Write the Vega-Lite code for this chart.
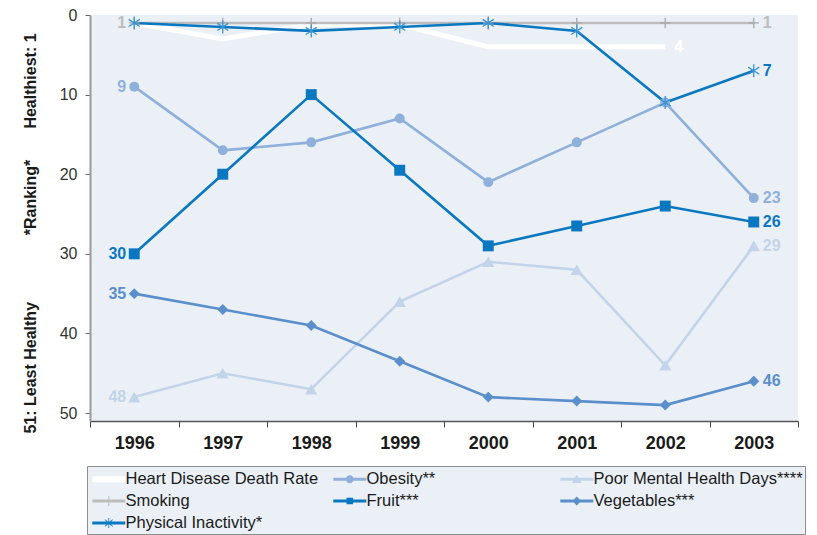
{
  "$schema": "https://vega.github.io/schema/vega-lite/v6.json",
  "width": 708,
  "height": 406,
  "autosize": "none",
  "padding": {"left": 90, "top": 15, "right": 19, "bottom": 114},
  "background": "white",
  "config": {"view": {"fill": "#ebf0f7", "stroke": null}, "font": "Liberation Sans"},
  "data": {"values": [
    {"series": "Heart Disease Death Rate", "year": "1996", "rank": 1},
    {"series": "Heart Disease Death Rate", "year": "1997", "rank": 3},
    {"series": "Heart Disease Death Rate", "year": "1998", "rank": 1.2},
    {"series": "Heart Disease Death Rate", "year": "1999", "rank": 1.2},
    {"series": "Heart Disease Death Rate", "year": "2000", "rank": 4},
    {"series": "Heart Disease Death Rate", "year": "2001", "rank": 4},
    {"series": "Heart Disease Death Rate", "year": "2002", "rank": 4},
    {"series": "Smoking", "year": "1996", "rank": 1},
    {"series": "Smoking", "year": "1997", "rank": 1},
    {"series": "Smoking", "year": "1998", "rank": 1},
    {"series": "Smoking", "year": "1999", "rank": 1},
    {"series": "Smoking", "year": "2000", "rank": 1},
    {"series": "Smoking", "year": "2001", "rank": 1},
    {"series": "Smoking", "year": "2002", "rank": 1},
    {"series": "Smoking", "year": "2003", "rank": 1},
    {"series": "Poor Mental Health Days****", "year": "1996", "rank": 48},
    {"series": "Poor Mental Health Days****", "year": "1997", "rank": 45},
    {"series": "Poor Mental Health Days****", "year": "1998", "rank": 47},
    {"series": "Poor Mental Health Days****", "year": "1999", "rank": 36},
    {"series": "Poor Mental Health Days****", "year": "2000", "rank": 31},
    {"series": "Poor Mental Health Days****", "year": "2001", "rank": 32},
    {"series": "Poor Mental Health Days****", "year": "2002", "rank": 44},
    {"series": "Poor Mental Health Days****", "year": "2003", "rank": 29},
    {"series": "Obesity**", "year": "1996", "rank": 9},
    {"series": "Obesity**", "year": "1997", "rank": 17},
    {"series": "Obesity**", "year": "1998", "rank": 16},
    {"series": "Obesity**", "year": "1999", "rank": 13},
    {"series": "Obesity**", "year": "2000", "rank": 21},
    {"series": "Obesity**", "year": "2001", "rank": 16},
    {"series": "Obesity**", "year": "2002", "rank": 11},
    {"series": "Obesity**", "year": "2003", "rank": 23},
    {"series": "Vegetables***", "year": "1996", "rank": 35},
    {"series": "Vegetables***", "year": "1997", "rank": 37},
    {"series": "Vegetables***", "year": "1998", "rank": 39},
    {"series": "Vegetables***", "year": "1999", "rank": 43.5},
    {"series": "Vegetables***", "year": "2000", "rank": 48},
    {"series": "Vegetables***", "year": "2001", "rank": 48.5},
    {"series": "Vegetables***", "year": "2002", "rank": 49},
    {"series": "Vegetables***", "year": "2003", "rank": 46},
    {"series": "Fruit***", "year": "1996", "rank": 30},
    {"series": "Fruit***", "year": "1997", "rank": 20},
    {"series": "Fruit***", "year": "1998", "rank": 10},
    {"series": "Fruit***", "year": "1999", "rank": 19.5},
    {"series": "Fruit***", "year": "2000", "rank": 29},
    {"series": "Fruit***", "year": "2001", "rank": 26.5},
    {"series": "Fruit***", "year": "2002", "rank": 24},
    {"series": "Fruit***", "year": "2003", "rank": 26},
    {"series": "Physical Inactivity*", "year": "1996", "rank": 1},
    {"series": "Physical Inactivity*", "year": "1997", "rank": 1.5},
    {"series": "Physical Inactivity*", "year": "1998", "rank": 2},
    {"series": "Physical Inactivity*", "year": "1999", "rank": 1.5},
    {"series": "Physical Inactivity*", "year": "2000", "rank": 1},
    {"series": "Physical Inactivity*", "year": "2001", "rank": 2},
    {"series": "Physical Inactivity*", "year": "2002", "rank": 11},
    {"series": "Physical Inactivity*", "year": "2003", "rank": 7}
  ]},
  "encoding": {
    "x": {
      "field": "year", "type": "ordinal", "bandPosition": 0.5,
      "scale": {"type": "band", "paddingInner": 0, "paddingOuter": 0},
      "axis": {
        "title": null, "labelAngle": 0, "labelFontSize": 18, "labelFontWeight": "bold",
        "labelColor": "#1a1a1a", "tickBand": "extent", "tickSize": 6, "tickColor": "#444",
        "domainColor": "#555", "domainWidth": 1.5, "labelPadding": 7, "grid": false
      }
    },
    "y": {
      "field": "rank", "type": "quantitative",
      "scale": {"domain": [0, 51], "reverse": true, "nice": false, "zero": false},
      "axis": {
        "values": [0, 10, 20, 30, 40, 50],
        "title": "51: Least Healthy\u00a0\u00a0\u00a0\u00a0\u00a0\u00a0\u00a0\u00a0\u00a0\u00a0\u00a0\u00a0\u00a0\u00a0\u00a0*Ranking*\u00a0\u00a0\u00a0\u00a0\u00a0\u00a0\u00a0Healthiest: 1",
        "titleFontSize": 16, "titleFontWeight": "bold", "titleColor": "#1a1a1a",
        "titleX": -52, "titleY": 218,
        "labelFontSize": 16, "labelColor": "#333333", "labelPadding": 8,
        "tickSize": 5, "tickColor": "#666666", "domainColor": "#9a9a9a", "domainWidth": 2, "grid": false
      }
    },
    "color": {
      "field": "series", "type": "nominal",
      "scale": {
        "domain": ["Heart Disease Death Rate", "Obesity**", "Poor Mental Health Days****", "Smoking", "Fruit***", "Vegetables***", "Physical Inactivity*"],
        "range": ["#ffffff", "#8fb0da", "#c2d4ea", "#bdbdbd", "#0a77c1", "#5b8fcb", "#0a77c1"]
      },
      "legend": {
        "title": null, "orient": "none", "legendX": -3, "legendY": 451,
        "direction": "horizontal", "columns": 3, "gridAlign": "each",
        "columnPadding": 11, "rowPadding": 2, "padding": 2,
        "fillColor": "#ebf0f7", "strokeColor": "#8c8c8c",
        "symbolSize": 484, "symbolStrokeWidth": 0, "symbolOpacity": 1,
        "labelOffset": 14.5, "labelFontSize": 16.5,
        "labelFont": "Liberation Sans", "labelColor": "#1a1a1a", "labelLimit": 400,
        "labelExpr": "datum.label == 'Obesity**' ? datum.label + '\u00a0\u00a0\u00a0\u00a0\u00a0\u00a0\u00a0\u00a0\u00a0\u00a0\u00a0\u00a0\u00a0\u00a0\u00a0\u00a0\u00a0\u00a0\u00a0\u00a0\u00a0\u00a0\u00a0\u00a0\u200b' : datum.label"
      }
    }
  },
  "layer": [
    {
      "transform": [{"filter": "datum.series == 'Heart Disease Death Rate'"}],
      "mark": {"type": "line", "strokeWidth": 5}
    },
    {
      "transform": [{"filter": "datum.series != 'Heart Disease Death Rate'"}],
      "mark": {"type": "line", "strokeWidth": 2.6}
    },
    {
      "mark": {"type": "point", "opacity": 0, "filled": true},
      "encoding": {
        "shape": {
          "field": "series", "type": "nominal",
          "scale": {
            "domain": ["Heart Disease Death Rate", "Obesity**", "Poor Mental Health Days****", "Smoking", "Fruit***", "Vegetables***", "Physical Inactivity*"],
            "range": [
              "M-0.7,-0.28H2.3V0.28H-0.7Z",
              "M-0.7,-0.13H2.3V0.13H-0.7ZM0.44,0A0.36,0.36 0 1,1 1.16,0A0.36,0.36 0 1,1 0.44,0Z",
              "M-0.7,-0.13H2.3V0.13H-0.7ZM0.8,-0.42L1.25,0.33L0.35,0.33Z",
              "M-0.7,-0.13H2.3V0.13H-0.7ZM0.75,-0.45H0.85V0.45H0.75Z",
              "M-0.7,-0.13H2.3V0.13H-0.7ZM0.5,-0.3H1.1V0.3H0.5Z",
              "M-0.7,-0.13H2.3V0.13H-0.7ZM0.8,-0.4L1.2,0L0.8,0.4L0.4,0Z",
              "M-0.7,-0.13H2.3V0.13H-0.7ZM0.76,-0.45H0.84V0.45H0.76ZM0.43,-0.27L0.47,-0.33L1.17,0.27L1.13,0.33ZM0.43,0.27L1.13,-0.33L1.17,-0.27L0.47,0.33Z"
            ]
          }
        }
      }
    },
    {
      "transform": [{"filter": "datum.series == 'Smoking'"}],
      "mark": {"type": "point", "shape": "M-1,0H1M0,-1V1", "filled": false, "stroke": "#a8a8a8", "strokeWidth": 1.3, "size": 110, "opacity": 1}
    },
    {
      "transform": [{"filter": "datum.series == 'Poor Mental Health Days****'"}],
      "mark": {"type": "point", "shape": "triangle-up", "filled": true, "color": "#c2d4ea", "size": 150, "opacity": 1}
    },
    {
      "transform": [{"filter": "datum.series == 'Obesity**'"}],
      "mark": {"type": "point", "shape": "circle", "filled": true, "color": "#8fb0da", "size": 100, "opacity": 1}
    },
    {
      "transform": [{"filter": "datum.series == 'Vegetables***'"}],
      "mark": {"type": "point", "shape": "diamond", "filled": true, "color": "#5b8fcb", "size": 120, "opacity": 1}
    },
    {
      "transform": [{"filter": "datum.series == 'Fruit***'"}],
      "mark": {"type": "point", "shape": "square", "filled": true, "color": "#0a77c1", "size": 120, "opacity": 1}
    },
    {
      "transform": [{"filter": "datum.series == 'Physical Inactivity*'"}],
      "mark": {"type": "point", "shape": "M0,-1V1M-0.85,-0.55L0.85,0.55M-0.85,0.55L0.85,-0.55", "filled": false, "stroke": "#3a93d6", "strokeWidth": 1.3, "size": 170, "opacity": 1}
    },
    {
      "transform": [{"filter": "datum.year == '1996' && datum.series != 'Physical Inactivity*' && datum.series != 'Heart Disease Death Rate'"}],
      "mark": {"type": "text", "align": "right", "baseline": "middle", "dx": -8, "fontSize": 16, "fontWeight": "bold"},
      "encoding": {"text": {"field": "rank", "type": "quantitative"}}
    },
    {
      "transform": [{"filter": "(datum.year == '2003') || (datum.series == 'Heart Disease Death Rate' && datum.year == '2002')"}],
      "mark": {"type": "text", "align": "left", "baseline": "middle", "dx": 9, "fontSize": 16, "fontWeight": "bold"},
      "encoding": {"text": {"field": "rank", "type": "quantitative"}}
    }
  ]
}
